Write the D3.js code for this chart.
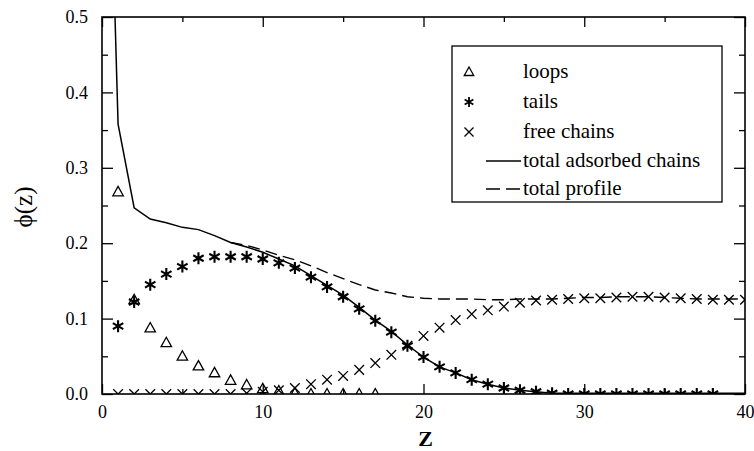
<html>
<head>
<meta charset="utf-8">
<title>phi(z) profile</title>
<script src="https://cdnjs.cloudflare.com/ajax/libs/d3/7.8.5/d3.min.js"></script>
<style>
  body { margin: 0; background: #fff; }
  svg text { font-family: "Liberation Serif", "DejaVu Serif", "Times New Roman", serif; fill: #000; }
</style>
</head>
<body>
<svg id="chart" width="754" height="451"></svg>
<script>
// values, z in lattice layers
var loopsZ = d3.range(1, 18);
var loops = [0.268, 0.125, 0.0875, 0.068, 0.050, 0.037, 0.028, 0.018, 0.012, 0.007,
             0.004, 0.001, 0, 0, 0, 0, 0];

var tailsZ = d3.range(1, 39);
var tails = [0.090, 0.122, 0.145, 0.159, 0.169, 0.180, 0.182, 0.182, 0.182, 0.179,
             0.174, 0.167, 0.155, 0.142, 0.129, 0.113, 0.097, 0.082, 0.064, 0.049,
             0.036, 0.028, 0.019, 0.013, 0.008, 0.005, 0.003, 0.001, 0, 0,
             0, 0, 0, 0, 0, 0, 0, 0];

var freeZ = d3.range(1, 41);
var free = [0, 0, 0, 0, 0, 0, 0, 0, 0.001,
            0.003, 0.005, 0.008, 0.013, 0.019, 0.024, 0.032, 0.041, 0.052, 0.064, 0.077,
            0.088, 0.098, 0.106, 0.111, 0.116, 0.121, 0.124, 0.125, 0.126, 0.127,
            0.127, 0.128, 0.129, 0.129, 0.128, 0.127, 0.126, 0.125, 0.125, 0.125];

var adsorbedZ = [0.5].concat(d3.range(1, 41));
var adsorbed = [0.73, 0.358, 0.247, 0.232, 0.227, 0.221, 0.218, 0.210, 0.201, 0.195,
                0.188, 0.179, 0.170, 0.157, 0.144, 0.131, 0.115, 0.098, 0.083, 0.065,
                0.049, 0.036, 0.028, 0.019, 0.013, 0.008, 0.005, 0.003, 0.001, 0.001,
                0.001, 0.001, 0.001, 0.001, 0.001, 0.001, 0.001, 0.001, 0.001, 0.001, 0.001];

var profileZ = d3.range(8, 41);
var profile = [0.201, 0.197, 0.191, 0.184, 0.178, 0.170, 0.161, 0.153, 0.145, 0.138,
               0.134, 0.129, 0.127, 0.126, 0.126, 0.126, 0.125, 0.125, 0.126, 0.126,
               0.126, 0.127, 0.128, 0.128, 0.129, 0.129, 0.129, 0.128, 0.127, 0.126,
               0.126, 0.126, 0.126];

var xTicks = [0, 10, 20, 30, 40];
var xMinor = [5, 15, 25, 35];
var yTicks = [0, 0.1, 0.2, 0.3, 0.4, 0.5];
var yMinor = [0.05, 0.15, 0.25, 0.35, 0.45];

var legendNames = ["loops", "tails", "free chains", "total adsorbed chains", "total profile"];

var pLeft = 102, pRight = 745, pTop = 17, pBottom = 394;

var svg = d3.select("#chart");
var x = d3.scaleLinear().domain([0, 40]).range([pLeft, pRight]);
var y = d3.scaleLinear().domain([0, 0.5]).range([pBottom, pTop]);

function zip(zs, vs) {
    return zs.map(function(z, i) { return [z, vs[i]]; });
}

// marker shapes
function triangle(s) {
    return "M0," + (-s) + "L" + (s * 0.95) + "," + (s * 0.7) + "L" + (-s * 0.95) + "," + (s * 0.7) + "Z";
}
function asterisk(s) {
    var a = s * 0.87, b = s * 0.5;
    return "M0," + (-s) + "V" + s +
        "M" + (-a) + "," + (-b) + "L" + a + "," + b +
        "M" + (-a) + "," + b + "L" + a + "," + (-b);
}
function cross(s) {
    return "M" + (-s) + "," + (-s) + "L" + s + "," + s + "M" + (-s) + "," + s + "L" + s + "," + (-s);
}

svg.append("clipPath").attr("id", "plot")
    .append("rect")
    .attr("x", pLeft).attr("y", pTop)
    .attr("width", pRight - pLeft).attr("height", pBottom - pTop);

var plot = svg.append("g").attr("clip-path", "url(#plot)");

var line = d3.line()
    .x(function(d) { return x(d[0]); })
    .y(function(d) { return y(d[1]); });

plot.append("path")
    .attr("d", line(zip(adsorbedZ, adsorbed)))
    .attr("fill", "none").attr("stroke", "#000").attr("stroke-width", 1.5);

plot.append("path")
    .attr("d", line(zip(profileZ, profile)))
    .attr("fill", "none").attr("stroke", "#000").attr("stroke-width", 1.4)
    .attr("stroke-dasharray", "12,6");

function markers(data, shape, size, width) {
    plot.selectAll(null)
        .data(data)
        .enter()
        .append("path")
        .attr("transform", function(d) { return "translate(" + x(d[0]) + "," + y(d[1]) + ")"; })
        .attr("d", shape(size))
        .attr("fill", "none")
        .attr("stroke", "#000")
        .attr("stroke-width", width);
}

markers(zip(loopsZ, loops), triangle, 5.5, 1.3);
markers(zip(tailsZ, tails), asterisk, 6, 2.1);
markers(zip(freeZ, free), cross, 4.8, 1.3);

// axes with inward ticks on all four sides
function drawAxis(axis, transform, showLabels) {
    var g = svg.append("g").attr("transform", transform).call(axis);
    g.select(".domain").remove();
    g.selectAll("line").attr("stroke", "#000").attr("stroke-width", 1.3);
    g.selectAll("text")
        .style("font-size", "18px")
        .style("font-family", "'Liberation Serif', 'DejaVu Serif', serif")
        .style("display", showLabels ? null : "none");
    return g;
}

var fmtY = d3.format(".1f");
drawAxis(d3.axisBottom(x).tickValues(xTicks).tickSize(-10).tickPadding(11).tickFormat(d3.format("d")),
    "translate(0," + pBottom + ")", true);
drawAxis(d3.axisBottom(x).tickValues(xMinor).tickSize(-5), "translate(0," + pBottom + ")", false);
drawAxis(d3.axisTop(x).tickValues(xTicks).tickSize(-10), "translate(0," + pTop + ")", false);
drawAxis(d3.axisTop(x).tickValues(xMinor).tickSize(-5), "translate(0," + pTop + ")", false);
drawAxis(d3.axisLeft(y).tickValues(yTicks).tickSize(-11).tickPadding(14).tickFormat(fmtY),
    "translate(" + pLeft + ",0)", true);
drawAxis(d3.axisLeft(y).tickValues(yMinor).tickSize(-6), "translate(" + pLeft + ",0)", false);
drawAxis(d3.axisRight(y).tickValues(yTicks).tickSize(-11), "translate(" + pRight + ",0)", false);
drawAxis(d3.axisRight(y).tickValues(yMinor).tickSize(-6), "translate(" + pRight + ",0)", false);

svg.append("rect")
    .attr("x", pLeft).attr("y", pTop)
    .attr("width", pRight - pLeft).attr("height", pBottom - pTop)
    .attr("fill", "none").attr("stroke", "#000").attr("stroke-width", 1.6);

// axis titles
svg.append("text")
    .attr("x", (pLeft + pRight) / 2 + 2).attr("y", 446)
    .attr("text-anchor", "middle")
    .style("font-size", "22px").style("font-weight", "bold")
    .text("Z");

svg.append("text")
    .attr("transform", "translate(32,207) rotate(-90)")
    .attr("text-anchor", "middle")
    .style("font-size", "25px")
    .text("\u03d5(z)");

// legend
var legend = svg.append("g").attr("transform", "translate(452,46)");
legend.append("rect")
    .attr("width", 270).attr("height", 156)
    .attr("fill", "#fff").attr("stroke", "#000").attr("stroke-width", 1.3);

var rowY = [26, 56, 86, 115, 143];
var shapes = [triangle, asterisk, cross];
legendNames.forEach(function(name, i) {
    var row = legend.append("g").attr("transform", "translate(0," + rowY[i] + ")");
    if (i < 3) {
        row.append("path")
            .attr("transform", "translate(17,0)")
            .attr("d", shapes[i](i === 2 ? 4.5 : 5))
            .attr("fill", "none").attr("stroke", "#000")
            .attr("stroke-width", i === 1 ? 1.8 : 1.3);
    } else {
        row.append("line")
            .attr("x1", 34).attr("x2", 69)
            .attr("stroke", "#000").attr("stroke-width", 1.4)
            .attr("stroke-dasharray", i === 4 ? "14,6" : null);
    }
    row.append("text")
        .attr("x", 71).attr("y", 6)
        .style("font-size", "21px")
        .text(name);
});
</script>
</body>
</html>
